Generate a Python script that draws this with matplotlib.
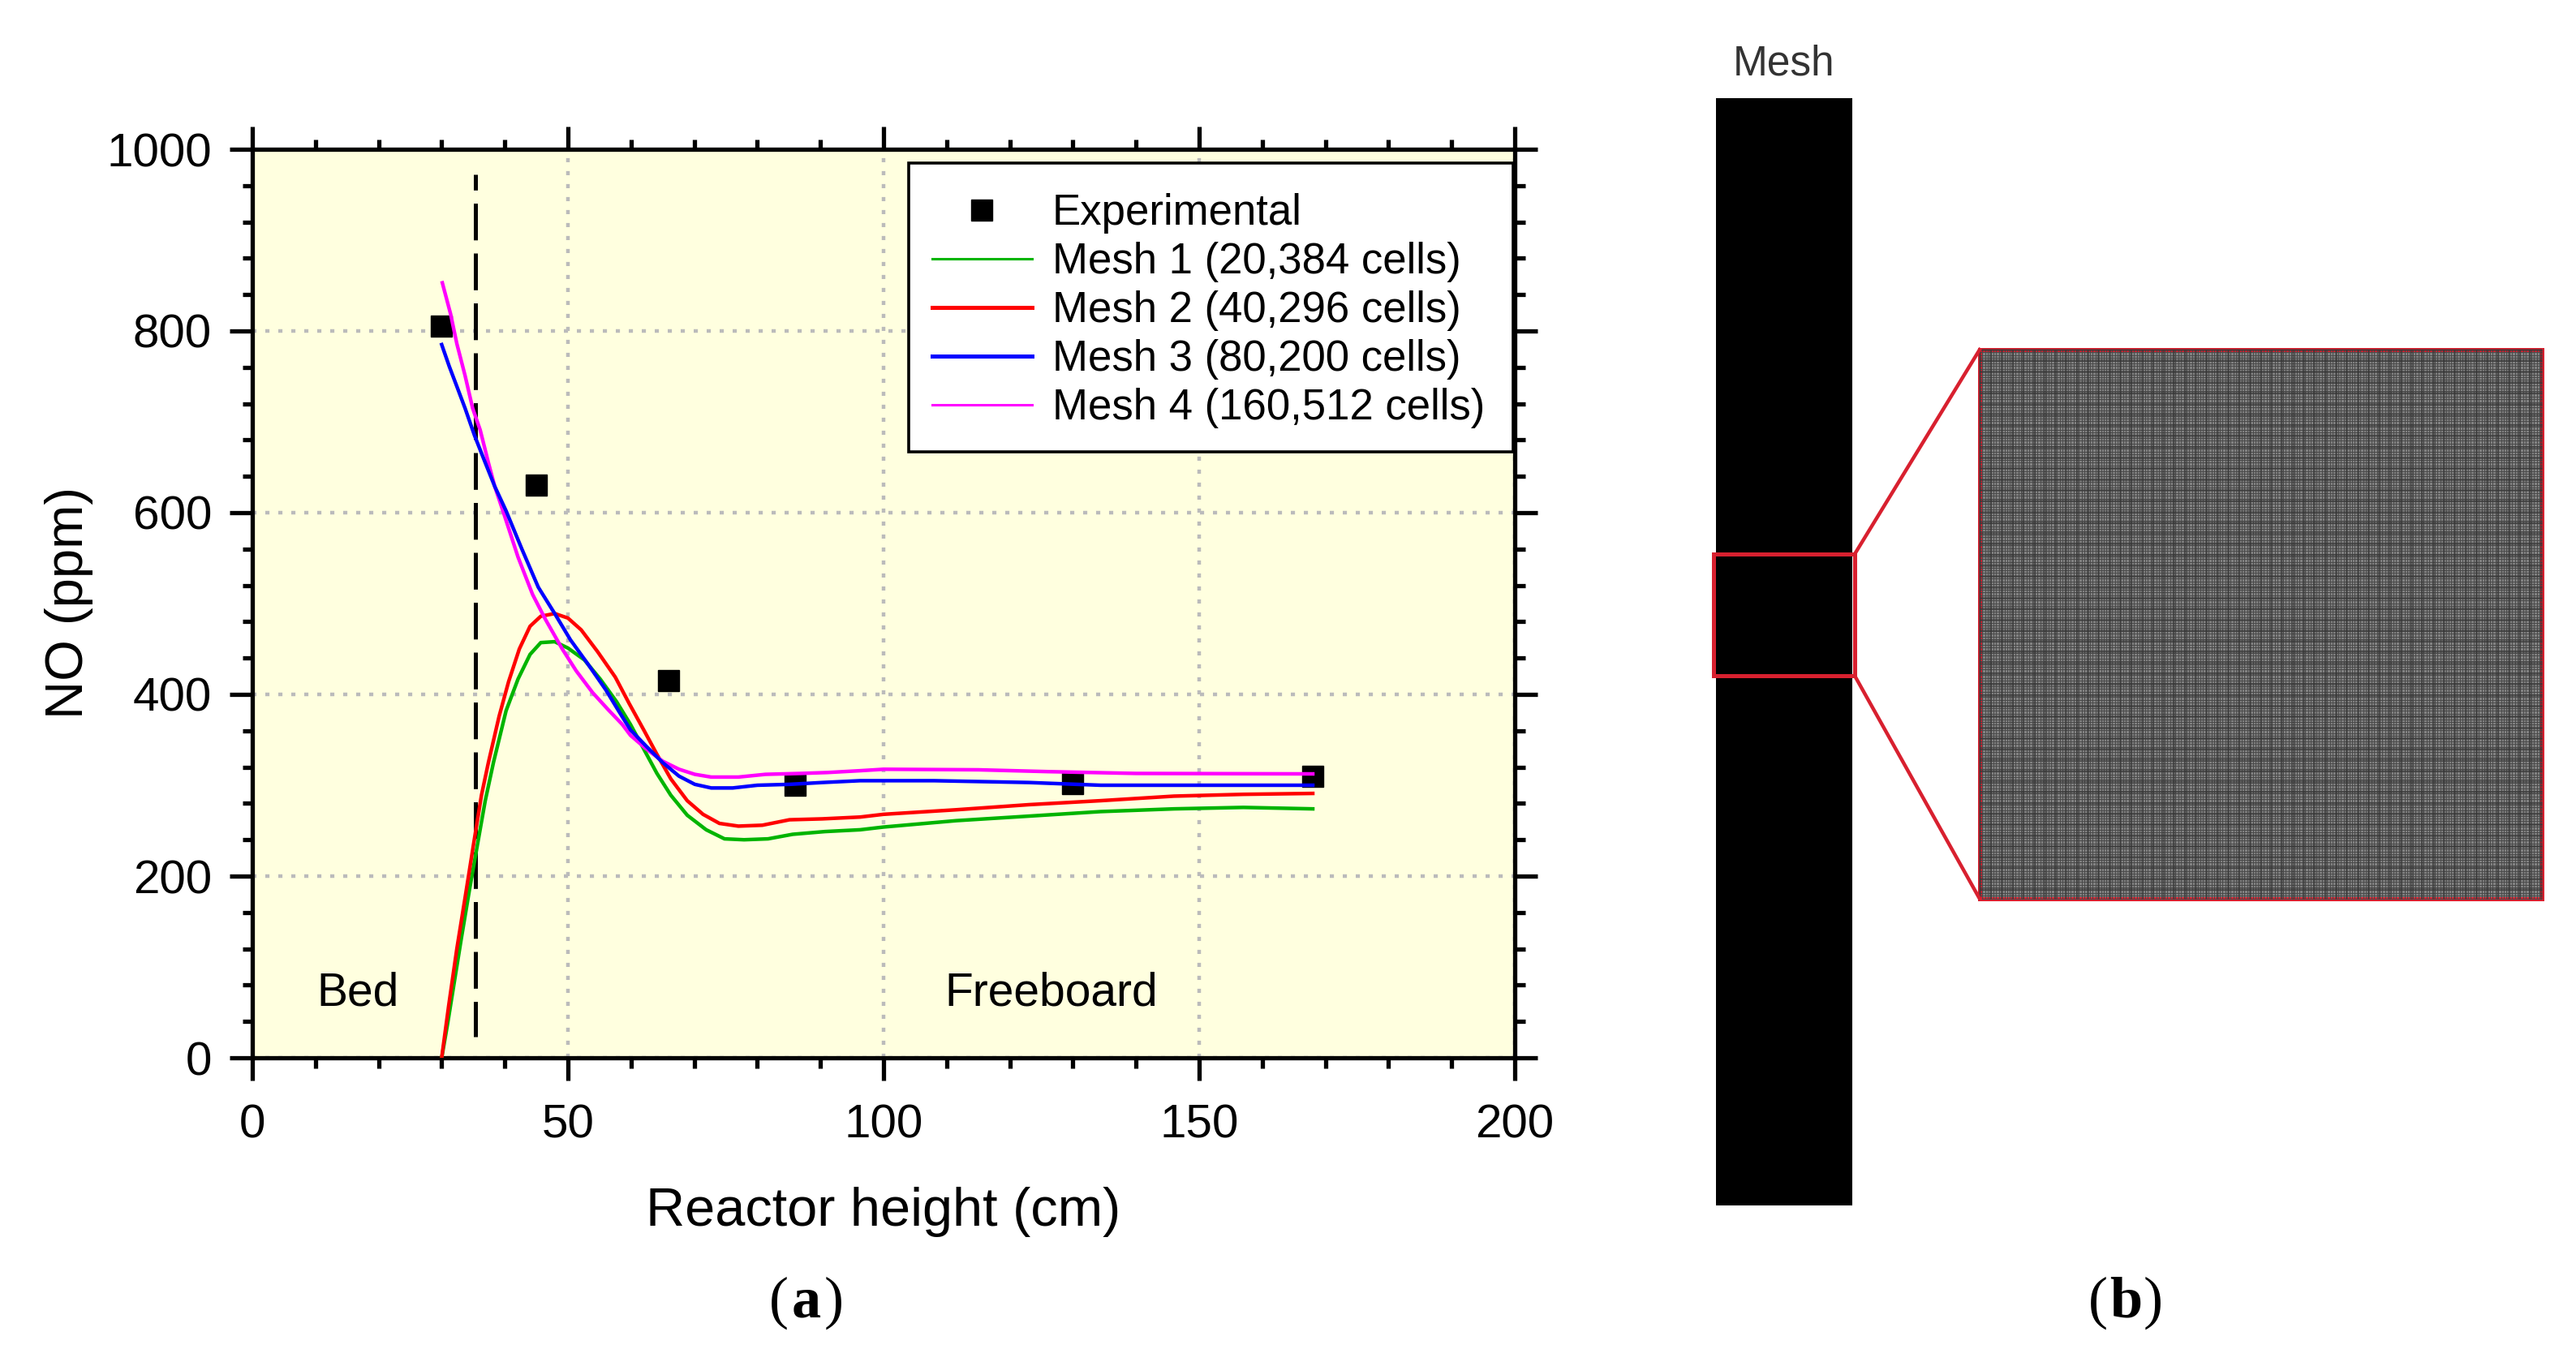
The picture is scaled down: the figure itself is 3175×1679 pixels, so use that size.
import matplotlib

matplotlib.use("Agg")

import matplotlib.pyplot as plt
import numpy as np
from matplotlib.patches import Rectangle
from matplotlib.ticker import MultipleLocator

W, H = 3175, 1679

exp_x = [30, 45, 66, 86, 130, 168]
exp_y = [805, 630, 415, 300, 302, 310]

mesh1_x = [30, 30.9, 33.1, 34.4, 35.7, 36.9, 38.2, 40.2, 42.1, 44, 45.7, 47.9, 50, 52.6, 55.1, 57.7, 59.9, 62, 64.1, 66.3, 68.9, 71.9, 74.8, 77.9, 81.7, 85.6, 90.7, 96.3, 100, 111.5, 123, 134.4, 146, 157, 168]
mesh1_y = [0, 36, 131, 185, 236, 283, 325, 382, 417, 444, 457, 458, 451, 438, 417, 392, 367, 340, 313, 289, 267, 251, 241, 240, 241, 246, 249, 251, 254, 261, 266, 271, 274, 275.6, 274]

mesh2_x = [30, 31.1, 32.4, 33.7, 35, 36.3, 37.4, 39.1, 40.6, 42.3, 44, 45.7, 47.9, 50, 52.1, 54.7, 57.5, 59.7, 62, 64.1, 66.3, 68.9, 71.4, 74, 77, 80.8, 85.1, 90.3, 96.3, 100, 111.5, 123, 134.4, 146, 157, 168]
mesh2_y = [0, 57, 120, 176, 233, 289, 325, 376, 414, 450, 475, 486, 489, 484, 471, 447, 419, 390, 361, 334, 307, 283, 268, 258, 255, 256, 262, 263, 265, 268, 273, 278.6, 283, 288, 290, 291]

mesh3_x = [30, 31.2, 32.4, 33.7, 35.2, 36.9, 38.4, 40.2, 42.7, 45.3, 47.9, 50.4, 53, 56, 58.1, 59.9, 62.4, 65, 67.6, 70.1, 72.7, 76.1, 80, 85.1, 90.3, 96.3, 108, 123, 134.4, 168]
mesh3_y = [785, 761, 739, 715, 685, 655, 629, 602, 560, 518, 489, 460, 435, 405, 381, 361, 343, 325, 310, 301, 297, 297, 300, 301, 303, 305, 305, 303, 300, 300]

mesh4_x = [30.1, 31.4, 32.4, 33.7, 34.9, 36.1, 37.4, 38.4, 39.7, 42.1, 44.4, 46.4, 49.1, 51.3, 53.9, 56.4, 58.6, 59.9, 62.4, 65, 67.6, 70.1, 72.7, 77, 81.3, 86.8, 91.1, 96.3, 100, 115, 126, 140, 168]
mesh4_y = [853, 819, 786, 751, 715, 691, 655, 629, 602, 551, 510, 483, 450, 426, 402, 383, 367, 355, 340, 326.5, 317.6, 312, 309, 309, 312, 313, 314, 316, 317.6, 317, 315, 313, 312.5]

legend_labels = ["Experimental", "Mesh 1 (20,384 cells)", "Mesh 2 (40,296 cells)",
                 "Mesh 3 (80,200 cells)", "Mesh 4 (160,512 cells)"]

plt.rcParams["font.family"] = ["Liberation Sans", "DejaVu Sans"]

fig = plt.figure(figsize=(W / 100, H / 100), dpi=100, facecolor="white")

# left panel
ax = fig.add_axes([311 / W, 1 - 1304 / H, (1867 - 311) / W, (1304 - 184) / H])
ax.set_facecolor("#ffffdf")
ax.set_xlim(0, 200)
ax.set_ylim(0, 1000)
ax.xaxis.set_major_locator(MultipleLocator(50))
ax.xaxis.set_minor_locator(MultipleLocator(10))
ax.yaxis.set_major_locator(MultipleLocator(200))
ax.yaxis.set_minor_locator(MultipleLocator(40))
for spine in ax.spines.values():
    spine.set_linewidth(3.8)
ax.tick_params(which="major", direction="out", top=True, right=True, length=20, width=3.8, labelsize=42)
ax.tick_params(which="minor", direction="out", top=True, right=True, length=9, width=3.8)
ax.tick_params(axis="x", which="major", pad=21)
ax.tick_params(axis="y", which="major", pad=16)
ax.grid(True, which="major", color="#bbbbbb", linewidth=3.2, linestyle=(0, (1.15, 2.45)))
ax.set_axisbelow(True)

ax.plot(exp_x, exp_y, "s", color="black", markersize=18.5, zorder=3, clip_on=False, label=legend_labels[0])
ax.plot(mesh1_x, mesh1_y, color="#00b400", linewidth=3.2, zorder=4, label=legend_labels[1])
ax.plot(mesh2_x, mesh2_y, color="#ff0000", linewidth=3.2, zorder=5, label=legend_labels[2])
ax.plot(mesh4_x, mesh4_y, color="#ff00ff", linewidth=3.2, zorder=6, label=legend_labels[4])
ax.plot(mesh3_x, mesh3_y, color="#0000ff", linewidth=3.2, zorder=6, label=legend_labels[3])
ax.plot([35.4, 35.4], [972, 23], color="black", linewidth=3.6, zorder=3,
        linestyle=(5.2, (9.06, 3.24)))

ax.text(16.7, 71, "Bed", fontsize=41, ha="center", va="center")
ax.text(126.6, 71, "Freeboard", fontsize=41, ha="center", va="center")

# legend frame and entries kept apart, padding differs per side in the original
ax.add_patch(Rectangle(((1120 - 311) / 1556, (1304 - 557) / 1120), 745 / 1556, 356 / 1120,
                       transform=ax.transAxes, facecolor="white", edgecolor="black", linewidth=2.6, zorder=7))
handles, labels = ax.get_legend_handles_labels()
order = [labels.index(name) for name in legend_labels]
leg = ax.legend([handles[i] for i in order], legend_labels, loc="upper left",
                bbox_to_anchor=((1149 - 311) / 1556, (1304 - 238) / 1120),
                fontsize=38, frameon=False, borderaxespad=0, borderpad=0, labelspacing=0.19,
                handlelength=2.33, handletextpad=0.47, numpoints=1)
leg.set_zorder(8)
for line, lw in zip(leg.get_lines(), [0, 2.2, 3.6, 3.6, 2.2]):
    if lw:
        line.set_linewidth(lw)

# figure level text and right panel, in pixels
ov = fig.add_axes([0, 0, 1, 1], facecolor="none")
ov.set_xlim(0, W)
ov.set_ylim(H, 0)
ov.axis("off")

ov.text(85, 743, "NO (ppm)", fontsize=47, rotation=90, ha="center", va="center")
ov.text(1089, 1494, "Reactor height (cm)", fontsize=48, ha="center", va="center")

ov.text(2199, 79, "Mesh", fontsize=37, color="#333333", ha="center", va="center")
ov.add_patch(Rectangle((2115, 121), 168, 1365, facecolor="black", edgecolor="none"))

# zoomed mesh
mx0, mx1, my0, my1 = 2440, 3133, 431, 1108
ov.add_patch(Rectangle((mx0, my0), mx1 - mx0, my1 - my0, facecolor="#828282", edgecolor="none"))
fine = 3.4
ov.vlines(np.arange(mx0, mx1, fine), my0, my1, color="#4a4a4a", linewidth=0.7)
ov.hlines(np.arange(my0, my1, fine), mx0, mx1, color="#4a4a4a", linewidth=0.7)
coarse = 13.3
ov.vlines(np.arange(mx0, mx1, coarse), my0, my1, color="#333333", linewidth=1.8, alpha=0.55)
ov.hlines(np.arange(my0, my1, coarse), mx0, mx1, color="#333333", linewidth=1.8, alpha=0.55)

red = "#d8202f"
ov.add_patch(Rectangle((mx0, my0), mx1 - mx0, my1 - my0, facecolor="none", edgecolor=red, linewidth=3.6))
ov.add_patch(Rectangle((2112, 683), 174, 150, facecolor="none", edgecolor=red, linewidth=3.6))
ov.plot([2286, mx0], [683, my0], color=red, linewidth=3.2)
ov.plot([2286, mx0], [833, my1], color=red, linewidth=3.2)

for x, letter in [(994, "a"), (2620, "b")]:
    ov.text(x - 34, 1606, "(", fontsize=52, family="Liberation Serif", ha="center", va="center")
    ov.text(x, 1606, letter, fontsize=52, family="Liberation Serif", fontweight="bold", ha="center", va="center")
    ov.text(x + 34, 1606, ")", fontsize=52, family="Liberation Serif", ha="center", va="center")

fig.savefig("out.png", dpi=100)
